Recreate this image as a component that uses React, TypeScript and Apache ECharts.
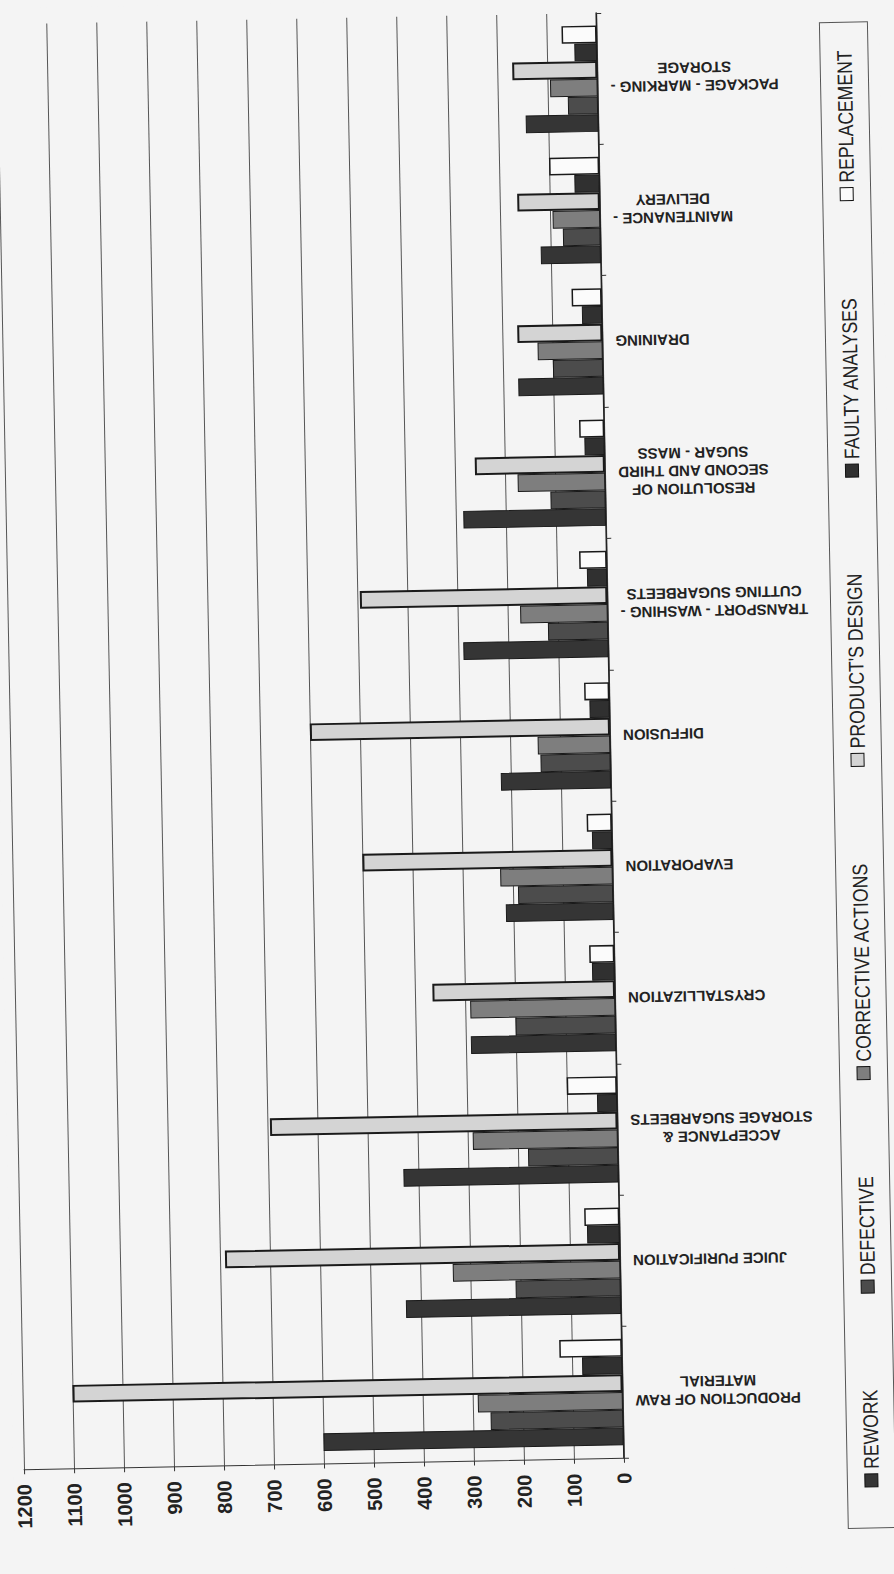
import React, { useEffect, useRef } from "react";
import * as echarts from "echarts";

const categories = [
  "PRODUCTION OF RAW\nMATERIAL",
  "JUICE PURIFICATION",
  "ACCEPTANCE &\nSTORAGE SUGARBEETS",
  "CRYSTALLIZATION",
  "EVAPORATION",
  "DIFFUSION",
  "TRANSPORT - WASHING -\nCUTTING SUGARBEETS",
  "RESOLUTION OF\nSECOND AND THIRD\nSUGAR - MASS",
  "DRAINING",
  "MAINTENANCE -\nDELIVERY",
  "PACKAGE - MARKING -\nSTORAGE",
];

const seriesNames = [
  "REWORK",
  "DEFECTIVE",
  "CORRECTIVE ACTIONS",
  "PRODUCT'S DESIGN",
  "FAULTY ANALYSES",
  "REPLACEMENT",
];

const rework = [600, 430, 430, 290, 215, 220, 290, 285, 170, 120, 145];
const defective = [265, 210, 180, 200, 190, 140, 120, 110, 100, 75, 60];
const corrective = [290, 335, 290, 290, 225, 145, 175, 175, 130, 95, 95];
const productDesign = [1100, 790, 695, 365, 500, 600, 495, 260, 170, 165, 170];
const faulty = [80, 65, 40, 45, 40, 40, 40, 40, 40, 50, 45];
const replacement = [125, 70, 100, 50, 50, 50, 55, 50, 60, 100, 70];

const axisMin = 0;
const axisMax = 1200;
const axisStep = 100;

const seriesData = [rework, defective, corrective, productDesign, faulty, replacement];
const fills = ["#353535", "#4c4c4c", "#7e7e7e", "#d4d4d4", "#303030", "#fbfbfb"];
const borders = [1, 1, 1, 2, 1, 1.5];

export default function App() {
  const ref = useRef<HTMLDivElement>(null);

  useEffect(() => {
    const el = ref.current;
    if (!el) return;
    const chart = echarts.init(el, undefined, { renderer: "svg" });
    const fontFamily = "'Liberation Sans', Arial, sans-serif";

    // legend layout (rotated, reading bottom to top), condensed text
    const canvas = document.createElement("canvas");
    const ctx = canvas.getContext("2d")!;
    const legendFont = 21;
    const squeeze = 0.84;
    ctx.font = `${legendFont}px ${fontFamily}`;
    const marker = 13;
    const markerGap = 5;
    const widths = seriesNames.map(
      (n) => marker + markerGap + ctx.measureText(n).width * squeeze
    );
    const legendX = 858;
    const legendBottom = 1495;
    const legendTop = 58;
    const total = widths.reduce((a, b) => a + b, 0);
    const gap = (legendBottom - legendTop - total) / (seriesNames.length - 1);
    const children: any[] = [];
    let pos = 0;
    seriesNames.forEach((n, i) => {
      children.push({
        type: "rect",
        shape: { x: pos, y: -marker / 2, width: marker, height: marker },
        style: { fill: fills[i], stroke: "#111", lineWidth: 1 },
      });
      children.push({
        type: "text",
        x: pos + marker + markerGap,
        y: 0,
        scaleX: squeeze,
        style: {
          text: n,
          fontSize: legendFont,
          fontFamily,
          fill: "#222",
          verticalAlign: "middle",
          align: "left",
        },
      });
      pos += widths[i] + gap;
    });

    // grouped horizontal bars are laid out top-down, so feed series in reverse
    const order = seriesNames.map((_, i) => seriesNames.length - 1 - i);

    chart.setOption({
      animation: false,
      backgroundColor: "#f4f4f4",
      grid: { left: 11, right: 283, top: 16, bottom: 113 },
      xAxis: {
        type: "value",
        inverse: true,
        min: axisMin,
        max: axisMax,
        interval: axisStep,
        axisLine: { show: true, lineStyle: { color: "#333", width: 1 } },
        axisTick: { show: true, length: 5, lineStyle: { color: "#333" } },
        splitLine: { show: true, lineStyle: { color: "#555", width: 1 } },
        axisLabel: {
          rotate: 90,
          fontSize: 20,
          fontWeight: "bold",
          fontFamily,
          color: "#222",
          margin: 15,
          formatter: (v: number) => String(v),
        },
      },
      yAxis: {
        type: "category",
        position: "right",
        data: categories,
        axisLine: { show: true, lineStyle: { color: "#222", width: 1.5 } },
        axisTick: { show: true, length: 5, lineStyle: { color: "#333" } },
        splitLine: { show: false },
        axisLabel: {
          rotate: 180,
          margin: 13,
          formatter: (v: string) =>
            v
              .split("\n")
              .map((l) => `{c|${l}}`)
              .join("\n"),
          rich: {
            c: {
              align: "center",
              fontSize: 15,
              fontWeight: "bold",
              fontFamily,
              color: "#222",
              lineHeight: 18,
            },
          },
        },
      },
      series: order.map((i) => ({
        name: seriesNames[i],
        type: "bar",
        data: seriesData[i],
        barGap: "0%",
        barCategoryGap: "19%",
        silent: true,
        itemStyle: {
          color: fills[i],
          borderColor: "#1a1a1a",
          borderWidth: borders[i],
        },
      })),
      graphic: [
        {
          type: "rect",
          shape: { x: 834, y: 30, width: 48, height: 1506 },
          style: { fill: "none", stroke: "#555", lineWidth: 1 },
        },
        {
          type: "group",
          x: legendX,
          y: legendBottom,
          rotation: Math.PI / 2,
          children,
        },
      ],
    });

    return () => {
      chart.dispose();
    };
  }, []);

  return (
    <div
      style={{
        position: "absolute",
        left: 0,
        top: 0,
        width: 894,
        height: 1574,
        overflow: "hidden",
        background: "#f4f4f4",
      }}
    >
      <div
        ref={ref}
        style={{
          width: 894,
          height: 1574,
          transform: "rotate(-1.1deg)",
          transformOrigin: "50% 50%",
        }}
      />
    </div>
  );
}
